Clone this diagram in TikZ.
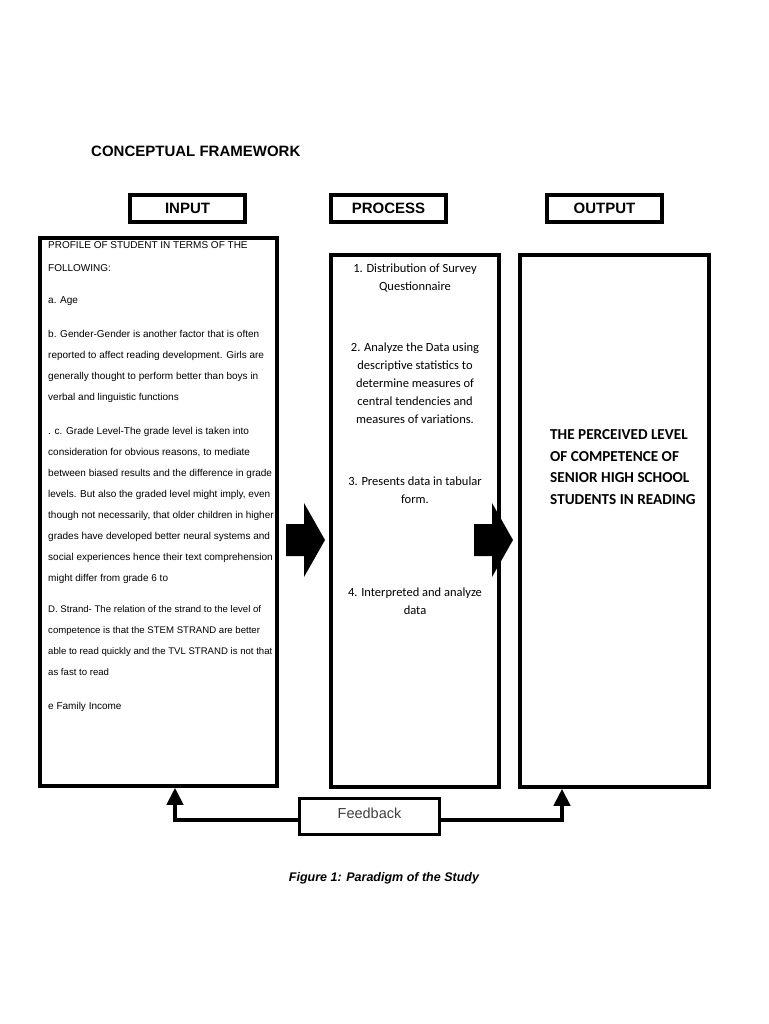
\documentclass[tikz,border=0pt]{standalone}
\usepackage{fontspec}
\setmainfont{Liberation Sans}
\newfontfamily\calibri{Carlito}
\usetikzlibrary{positioning,arrows.meta}

\begin{document}
\begin{tikzpicture}[x=1pt,y=-1pt,
    headbox/.style={draw,line width=3.5pt,minimum width=115pt,minimum height=27pt,inner sep=0pt,
      font=\fontsize{15}{18}\selectfont\bfseries},
    bigbox/.style={draw,line width=3.5pt,inner sep=0pt},
    intext/.style={anchor=base west,align=left,inner sep=0pt,font=\fontsize{10}{21}\selectfont},
    proctext/.style={anchor=base,align=center,inner sep=0pt,font=\calibri\fontsize{12.5}{18}\selectfont},
    blockarrow/.style={fill=black},
    fbline/.style={line width=4pt,-{Triangle[width=16pt,length=17pt]}}]
      \useasboundingbox (0,0) rectangle (768,1024);

      \node[anchor=base west,inner sep=0pt,font=\fontsize{15}{18}\selectfont\bfseries] (title) at (91,156.5) {CONCEPTUAL FRAMEWORK};

      % headings
      \node[headbox] (input) at (187.5,208.5) {INPUT};
      \node[headbox] (process) at (388.5,208.5) {PROCESS};
      \node[headbox] (output) at (604.5,208.5) {OUTPUT};

      % the three columns
      \node[bigbox,minimum width=237pt,minimum height=548pt] (inbox) at (158.5,512) {};
      \node[bigbox,minimum width=168pt,minimum height=532pt] (procbox) at (415,521) {};
      \node[bigbox,minimum width=189pt,minimum height=532pt] (outbox) at (614.5,521) {};

      % input (placed by the baseline of the last line)
      \node[intext] (p1) at (48,271.5) {PROFILE OF STUDENT IN TERMS OF THE\\[2pt]FOLLOWING:};
      \node[intext] (p2) at (48,303.5) {a. Age};
      \node[intext] (p3) at (48,400.5) {b. Gender-Gender is another factor that is often\\
        reported to affect reading development. Girls are\\
        generally thought to perform better than boys in\\
        verbal and linguistic functions};
      \node[intext] (p4) at (48,581.5) {. c. Grade Level-The grade level is taken into\\
        consideration for obvious reasons, to mediate\\
        between biased results and the difference in grade\\
        levels. But also the graded level might imply, even\\
        though not necessarily, that older children in higher\\
        grades have developed better neural systems and\\
        social experiences hence their text comprehension\\
        might differ from grade 6 to};
      \node[intext,font=\fontsize{9.6}{21}\selectfont] (p5) at (48,675.5) {D. Strand- The relation of the strand to the level of\\
        competence is that the STEM STRAND are better\\
        able to read quickly and the TVL STRAND is not that\\
        as fast to read};
      \node[intext] (p6) at (48,709.5) {e Family Income};

      % process
      \node[proctext] (s1) at (415,290) {1. Distribution of Survey\\Questionnaire};
      \node[proctext] (s2) at (415,423) {2. Analyze the Data using\\descriptive statistics to\\determine measures of\\central tendencies and\\measures of variations.};
      \node[proctext] (s3) at (415,503) {3. Presents data in tabular\\form.};
      \node[proctext] (s4) at (415,614.5) {4. Interpreted and analyze\\data};

      % output
      \node[anchor=base west,align=left,inner sep=0pt,font=\calibri\bfseries\fontsize{15.2}{21.5}\selectfont] (result) at (550,504)
        {THE PERCEIVED LEVEL\\OF COMPETENCE OF\\SENIOR HIGH SCHOOL\\STUDENTS IN READING};

      % block arrows
      \foreach \ax in {286,474}
        \fill[blockarrow] (\ax,524) -- ++(18,0) -- ++(0,-21) -- ++(21,37) -- ++(-21,37) -- ++(0,-21) -- ++(-18,0) -- cycle;

      % feedback
      \node[draw,line width=3pt,minimum width=140pt,minimum height=36pt,inner sep=0pt,text height=10.5pt,text depth=7pt,
        text=black!75,font=\fontsize{14.5}{17}\selectfont] (fb) at (369.5,816.5) {Feedback};
      \draw[fbline] ([yshift=-3.5pt]fb.west) -| ([xshift=16.5pt]inbox.south);
      \draw[fbline] ([yshift=-3.5pt]fb.east) -| ([xshift=-52.5pt]outbox.south);

      \node[font=\fontsize{12.5}{15}\selectfont\bfseries\itshape] (caption) at (384,878) {Figure 1: Paradigm of the Study};
    \end{tikzpicture}
\end{document}
